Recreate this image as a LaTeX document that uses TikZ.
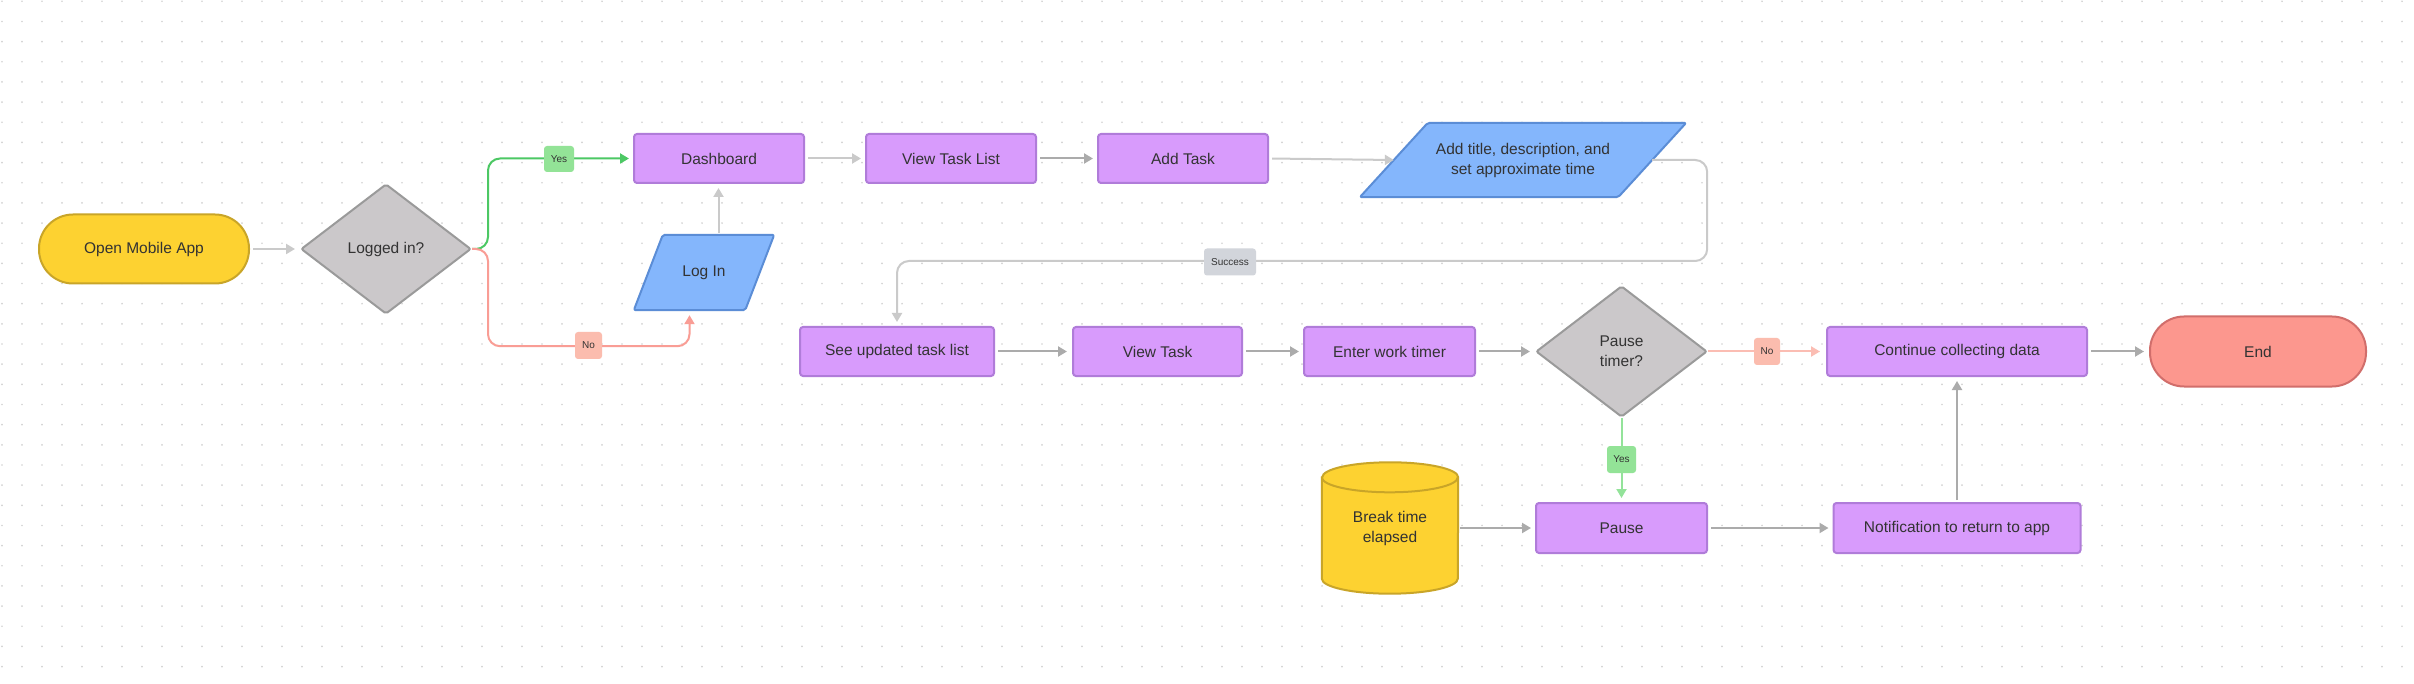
\documentclass[tikz,border=0pt]{standalone}
\usepackage{fontspec}
\setmainfont{Liberation Sans}
\usetikzlibrary{shapes.geometric,arrows.meta,calc,backgrounds}
\definecolor{purf}{HTML}{D89BFC}
\definecolor{purd}{HTML}{B07CD9}
\definecolor{bluef}{HTML}{84B6FC}
\definecolor{blued}{HTML}{5B8DD6}
\definecolor{yelf}{HTML}{FDD231}
\definecolor{yeld}{HTML}{C9A528}
\definecolor{grayf}{HTML}{CBC8CA}
\definecolor{grayd}{HTML}{9A9A9A}
\definecolor{endf}{HTML}{FC978E}
\definecolor{endd}{HTML}{D16E6B}
\definecolor{linel}{HTML}{CACACA}
\definecolor{lined}{HTML}{ABABAB}
\definecolor{greenl}{HTML}{4CC864}
\definecolor{greenll}{HTML}{93E39A}
\definecolor{greenlab}{HTML}{93E397}
\definecolor{redl}{HTML}{F99D95}
\definecolor{redll}{HTML}{FBBDB3}
\definecolor{redlab}{HTML}{FBBCAE}
\definecolor{sucf}{HTML}{D2D5DB}
\definecolor{txtc}{HTML}{333333}
\definecolor{dotc}{HTML}{D2D2D2}
\tikzset{
  box/.style={rectangle, rounded corners=3pt, draw=purd, fill=purf, line width=2pt, minimum height=49pt, inner sep=0pt, align=center},
  termbox/.style={rectangle, rounded corners=34pt, line width=2pt, minimum height=69pt, inner sep=0pt, align=center},
  decbox/.style={diamond, draw=grayd, fill=grayf, line width=2pt, inner sep=0pt, rounded corners=2pt, minimum width=170pt, minimum height=130pt, align=center},
  iobox/.style={rectangle, inner sep=0pt, align=center},
  ioshape/.style={draw=blued, fill=bluef, line width=2pt, rounded corners=2pt, line join=round},
  conn/.style={line width=2pt, -{Triangle[length=9pt,width=10pt]}, rounded corners=12pt, shorten >=4pt, shorten <=3pt},
  lab/.style={rectangle, rounded corners=3pt, inner sep=0pt, font=\fontsize{10}{12}\selectfont, minimum height=27pt, text=txtc}
}
\begin{document}
\begin{tikzpicture}[x=1pt, y=-1pt, font=\fontsize{15.5}{20}\selectfont, text=txtc]
\useasboundingbox (0,0) rectangle (2414,684);
\begin{pgfonlayer}{background}
  \fill[white] (0,0) rectangle (2414,684);
  \foreach \i in {0,...,120}{
    \foreach \j in {0,...,33}{
      \fill[dotc] (2+20*\i, 1.3+20.16*\j) circle (0.95pt);
    }
  }
\end{pgfonlayer}

% nodes
\node[termbox, draw=yeld, fill=yelf, minimum width=210pt] (open) at (144,249) {Open Mobile App};
\node[decbox] (logged) at (386,249) {Logged in?};
\node[box, minimum width=170pt] (dash) at (719,158.5) {Dashboard};
\node[box, minimum width=170pt] (vtl) at (951,158.5) {View Task List};
\node[box, minimum width=170pt] (add) at (1183,158.5) {Add Task};
\node[iobox, minimum width=326pt, minimum height=74pt] (param) at (1523,160) {Add title, description, and\\set approximate time};
\node[iobox, minimum width=140pt, minimum height=75pt] (login) at (704,272.5) {Log In};
\node[box, minimum width=194pt] (upd) at (897,351.5) {See updated task list};
\node[box, minimum width=169pt] (vt) at (1157.5,351.5) {View Task};
\node[box, minimum width=171pt] (ewt) at (1389.5,351.5) {Enter work timer};
\node[decbox, minimum width=171pt, minimum height=131pt] (pt) at (1621.5,351.5) {Pause\\timer?};
\node[box, minimum width=260pt] (cont) at (1957,351.5) {Continue collecting data};
\node[termbox, draw=endd, fill=endf, minimum width=216pt, minimum height=70pt] (end) at (2258,351.5) {End};
\node[box, minimum width=171pt, minimum height=50pt] (pause) at (1621.5,528) {Pause};
\node[box, minimum width=247pt, minimum height=50pt] (notif) at (1957,528) {Notification to return to app};
\node[iobox, minimum width=136pt, minimum height=131pt] (brk) at (1390,528) {\raisebox{-13pt}{\begin{tabular}{@{}c@{}}Break time\\elapsed\end{tabular}}};

% shapes behind text nodes
\begin{pgfonlayer}{background}
  \path[ioshape] ($(param.north west)+(68,0)$) -- (param.north east) -- ($(param.south east)+(-68,0)$) -- (param.south west) -- cycle;
  \path[ioshape] ($(login.north west)+(29,0)$) -- (login.north east) -- ($(login.south east)+(-29,0)$) -- (login.south west) -- cycle;
  \path[draw=yeld, fill=yelf, line width=2pt] ($(brk.north west)+(0,15)$) -- ($(brk.south west)+(0,-15)$) arc (180:360:68pt and 15pt) -- ($(brk.north east)+(0,15)$) arc (0:180:68pt and 15pt) -- cycle;
  \draw[yeld, line width=2pt] ($(brk.north west)+(0,15)$) arc (180:360:68pt and 15pt);
\end{pgfonlayer}

% connector end points on slanted edges
\coordinate (paramL) at ($(param.west)+(34,0)$);
\coordinate (paramR) at ($(param.east)+(-34,0)$);
\coordinate (loginB) at ($(login.south)+(-14.5,0)$);
\coordinate (loginT) at ($(login.north)+(14.5,0)$);

% connectors
\draw[conn, linel, shorten >=5pt] (open.east) -- (logged.west);
\draw[conn, greenl, shorten <=0pt] (logged.east) -- ++(16,0) |- (dash.west);
\draw[conn, redl, shorten <=0pt, shorten >=5pt] (logged.east) -- ++(16,0) |- ($(loginB)+(0,36)$) -- (loginB);
\draw[conn, linel, shorten <=2pt] (loginT) -- (loginT |- dash.south);
\draw[conn, linel] (dash.east) -- (vtl.west);
\draw[conn, lined] (vtl.east) -- (add.west);
\draw[conn, linel, shorten >=0pt] (add.east) -- (paramL);
\draw[conn, linel, shorten <=0pt] (paramR) -- ++(55,0) |- ($(upd.north)+(0,-65)$) -- (upd.north);
\draw[conn, lined, shorten >=5pt] (upd.east) -- (vt.west);
\draw[conn, lined] (vt.east) -- (ewt.west);
\draw[conn, lined, shorten >=5pt] (ewt.east) -- (pt.west);
\draw[conn, redll, shorten <=0pt, shorten >=6pt] (pt.east) -- (cont.west);
\draw[conn, lined, shorten >=5pt] (cont.east) -- (end.west);
\draw[conn, greenll, shorten <=0pt] (pt.south) -- (pause.north);
\draw[conn, lined, shorten <=2pt] (brk.east) -- (pause.west);
\draw[conn, lined] (pause.east) -- (notif.west);
\draw[conn, lined, shorten <=2pt] (notif.north) -- (cont.south);

% labels
\node[lab, fill=greenlab, minimum width=30pt, minimum height=26pt] (yes1) at (559,159) {Yes};
\node[lab, fill=redlab, minimum width=27pt] (no1) at (588.5,345.5) {No};
\node[lab, fill=sucf, minimum width=52pt] (succ) at (1230,262) {Success};
\node[lab, fill=redlab, minimum width=26pt] (no2) at (1767,351.5) {No};
\node[lab, fill=greenlab, minimum width=29pt] (yes2) at (1621.5,459.5) {Yes};
\end{tikzpicture}
\end{document}
